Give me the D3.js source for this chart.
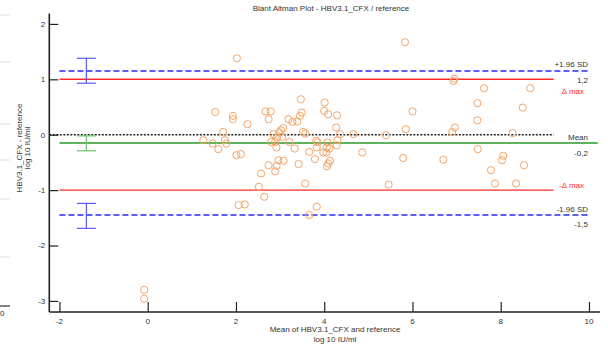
<!DOCTYPE html>
<html>
<head>
<meta charset="utf-8">
<script src="https://cdn.jsdelivr.net/npm/d3@7"></script>
<style>
  body { margin: 0; background: #fff; }
  svg { display: block; font-family: "Liberation Sans", Arial, sans-serif; }
</style>
</head>
<body>
<div id="chart"></div>
<script>
// differences vs means (log10 IU/ml)
const meanValues = [
  1.53, 1.93, 1.93, 2.26, 2.67, 2.79, 2.74, 3.47, 3.49, 3.45,
  4.01, 4.00, 4.09, 4.29, 3.19, 3.28, 3.39, 3.07, 3.02, 2.98,
  2.85, 4.27, 4.36, 4.66, 3.52, 3.57, 1.71, 1.26, 1.47, 1.60,
  1.75, 1.78, 2.80, 2.93, 3.05, 2.89, 2.92, 3.21, 3.33, 3.82,
  3.85, 3.83, 4.07, 4.30, 4.28, 4.06, 4.12, 3.98, 4.05, 3.66,
  3.79, 4.13, 4.09, 4.06, 4.86, 2.01, 2.11, 2.96, 3.08, 2.74,
  2.92, 2.89, 3.42, 2.57, 2.52, 3.57, 2.64, 2.06, 2.20, 3.83,
  3.66, 5.83, 6.95, 6.93, 7.62, 8.67, 7.47, 8.50, 6.00, 7.47,
  5.85, 6.96, 6.90, 5.40, 8.27, 5.79, 6.70, 7.48, 8.06, 8.03,
  8.53, 7.78, 5.46, 7.87, 8.35, -0.08, -0.08, 2.02
];
const diffValues = [
  0.41, 0.34, 0.28, 0.19, 0.42, 0.42, 0.28, 0.64, 0.40, 0.34,
  0.58, 0.43, 0.37, 0.35, 0.28, 0.23, 0.24, 0.12, 0.08, 0.04,
  0.01, 0.13, 0.01, 0.01, 0.05, 0.02, 0.05, -0.10, -0.16, -0.26,
  -0.10, -0.16, -0.13, -0.05, -0.04, -0.13, -0.23, -0.13, -0.25, -0.11,
  -0.14, -0.23, -0.14, -0.10, -0.19, -0.23, -0.25, -0.32, -0.32, -0.31,
  -0.44, -0.47, -0.52, -0.57, -0.32, -0.37, -0.35, -0.46, -0.47, -0.55,
  -0.56, -0.66, -0.53, -0.70, -0.94, -0.88, -1.12, -1.27, -1.26, -1.30,
  -1.45, 1.67, 1.01, 0.97, 0.84, 0.84, 0.57, 0.49, 0.42, 0.26,
  0.10, 0.13, 0.05, -0.01, 0.03, -0.42, -0.45, -0.26, -0.38, -0.46,
  -0.55, -0.64, -0.90, -0.88, -0.88, -2.80, -2.96, 1.38
];

// reference lines: value, end x, colour, dash
const refNames = ['upperSD', 'maxUp', 'zero', 'mean', 'maxDown', 'lowerSD'];
const refValues = [1.15, 1.0, 0.0, -0.15, -1.0, -1.45];
const refStart = [-2, -2, -2.23, -2, -2, -2];
const refEnd = [10.02, 9.2, 9.2, 10.2, 9.2, 10.02];

// confidence intervals drawn at x = -1.39
const ciX = -1.39;
const ciLow = [0.93, -0.29, -1.69];
const ciHigh = [1.38, -0.02, -1.24];

const xTicks = [-2, 0, 2, 4, 6, 8, 10];
const yTicks = [-3, -2, -1, 0, 1, 2];

const width = 608, height = 346;

const svg = d3.select('#chart')
  .append('svg')
  .attr('width', width)
  .attr('height', height);

const x = d3.scaleLinear().domain([-2.23, 10.25]).range([49.3, 600]);
const y = d3.scaleLinear().domain([-3.2, 2.19]).range([312, 13.4]);

// leftover strip of a neighbouring chart
[15, 62, 124, 160, 199, 257].forEach(v => {
  svg.append('line').attr('x1', 0).attr('x2', 10).attr('y1', v).attr('y2', v)
    .attr('stroke', '#ddd').attr('stroke-width', 1);
});
svg.append('line').attr('x1', 0).attr('x2', 10).attr('y1', 306).attr('y2', 306)
  .attr('stroke', '#333').attr('stroke-width', 1.2);
svg.append('text').attr('x', 0).attr('y', 316).attr('font-size', 8).attr('fill', '#333').text('0');

// title
svg.append('text')
  .attr('x', 331).attr('y', 11)
  .attr('text-anchor', 'middle')
  .attr('font-size', 8)
  .attr('fill', '#333')
  .text('Blant Altman Plot - HBV3.1_CFX / reference');

// reference lines
const colors = { upperSD: '#2a2aff', maxUp: '#ff2a2a', zero: '#222', mean: '#2a9a2a', maxDown: '#ff2a2a', lowerSD: '#2a2aff' };
const dashes = { upperSD: '6,3', maxUp: null, zero: '2,1.5', mean: null, maxDown: null, lowerSD: '6,3' };
const widths = { upperSD: 1.6, maxUp: 1.4, zero: 1.6, mean: 1.4, maxDown: 1.4, lowerSD: 1.6 };

refNames.forEach((name, i) => {
  svg.append('line')
    .attr('x1', x(refStart[i])).attr('x2', x(refEnd[i]))
    .attr('y1', y(refValues[i])).attr('y2', y(refValues[i]))
    .attr('stroke', colors[name])
    .attr('stroke-width', widths[name])
    .attr('stroke-dasharray', dashes[name]);
});

// confidence interval bars
const ciColors = ['#5a5aff', '#6cc46c', '#5a5aff'];
ciLow.forEach((lo, i) => {
  const g = svg.append('g').attr('stroke', ciColors[i]).attr('stroke-width', 1.2);
  g.append('line').attr('x1', x(ciX)).attr('x2', x(ciX)).attr('y1', y(lo)).attr('y2', y(ciHigh[i]));
  g.append('line').attr('x1', x(ciX) - 9.5).attr('x2', x(ciX) + 9.5).attr('y1', y(lo)).attr('y2', y(lo));
  g.append('line').attr('x1', x(ciX) - 9.5).attr('x2', x(ciX) + 9.5).attr('y1', y(ciHigh[i])).attr('y2', y(ciHigh[i]));
});

// points
svg.append('g')
  .selectAll('circle')
  .data(meanValues)
  .enter()
  .append('circle')
  .attr('cx', d => x(d))
  .attr('cy', (d, i) => y(diffValues[i]))
  .attr('r', 3.6)
  .attr('fill', 'none')
  .attr('stroke', '#f6a466')
  .attr('stroke-width', 1);

// line labels
const labels = [
  { text: '+1.96 SD', v: 1.15, dy: -7, color: '#333' },
  { text: '1,2', v: 1.15, dy: 9, color: '#333' },
  { text: 'Δ max', v: 1.0, dy: 12, color: '#ff2a2a', right: 584 },
  { text: 'Mean', v: -0.15, dy: -6, color: '#333' },
  { text: '-0,2', v: -0.15, dy: 10, color: '#333' },
  { text: '-Δ max', v: -1.0, dy: -5, color: '#ff2a2a', right: 584 },
  { text: '-1.96 SD', v: -1.45, dy: -6, color: '#333' },
  { text: '-1,5', v: -1.45, dy: 9, color: '#333' },
];
svg.append('g')
  .selectAll('text')
  .data(labels)
  .enter()
  .append('text')
  .attr('x', d => d.right || 588)
  .attr('y', d => y(d.v) + d.dy)
  .attr('dy', '0.35em')
  .attr('text-anchor', 'end')
  .attr('font-size', 8)
  .attr('fill', d => d.color)
  .text(d => d.text);

// axes: major ticks inward, minor halfway
const axisColor = '#222';
const xAxis = svg.append('g').attr('transform', `translate(0,${y(-3.2)})`);
xAxis.call(d3.axisTop(x).tickValues(d3.range(-1, 10, 2)).tickSize(4).tickFormat(''));
xAxis.call(d3.axisTop(x).tickValues(xTicks).tickSize(10).tickFormat(''));
xAxis.selectAll('.domain').remove();
xAxis.selectAll('line').attr('stroke', axisColor).attr('stroke-width', 1.2);
xAxis.append('line').attr('x1', x(-2.23)).attr('x2', x(10.25))
  .attr('stroke', axisColor).attr('stroke-width', 1.6);
xAxis.selectAll('.lbl')
  .data(xTicks)
  .enter()
  .append('text')
  .attr('x', d => x(d))
  .attr('y', 12)
  .attr('text-anchor', 'middle')
  .attr('font-size', 8)
  .attr('fill', '#333')
  .text(d => d);

const yAxis = svg.append('g').attr('transform', `translate(${x(-2.23)},0)`);
yAxis.call(d3.axisRight(y).tickValues(d3.range(-2.5, 2.1, 1)).tickSize(4).tickFormat(''));
yAxis.call(d3.axisRight(y).tickValues(yTicks).tickSize(9).tickFormat(''));
yAxis.selectAll('.domain').remove();
yAxis.selectAll('line').attr('stroke', axisColor).attr('stroke-width', 1.2);
yAxis.append('line').attr('y1', y(2.19)).attr('y2', y(-3.2))
  .attr('stroke', axisColor).attr('stroke-width', 1.6);
yAxis.selectAll('.lbl')
  .data(yTicks)
  .enter()
  .append('text')
  .attr('x', -4)
  .attr('y', d => y(d))
  .attr('dy', '0.35em')
  .attr('text-anchor', 'end')
  .attr('font-size', 8)
  .attr('fill', '#333')
  .text(d => d);

// axis titles
svg.append('text')
  .attr('x', 335).attr('y', 332)
  .attr('text-anchor', 'middle').attr('font-size', 8).attr('fill', '#333')
  .text('Mean of HBV3.1_CFX and reference');
svg.append('text')
  .attr('x', 335).attr('y', 342)
  .attr('text-anchor', 'middle').attr('font-size', 8).attr('fill', '#333')
  .text('log 10 IU/ml');

svg.append('text')
  .attr('transform', 'translate(22,148) rotate(-90)')
  .attr('text-anchor', 'middle').attr('font-size', 8).attr('fill', '#333')
  .text('HBV3.1_CFX - reference');
svg.append('text')
  .attr('transform', 'translate(30,148) rotate(-90)')
  .attr('text-anchor', 'middle').attr('font-size', 8).attr('fill', '#333')
  .text('log 10 IU/ml');
</script>
</body>
</html>
